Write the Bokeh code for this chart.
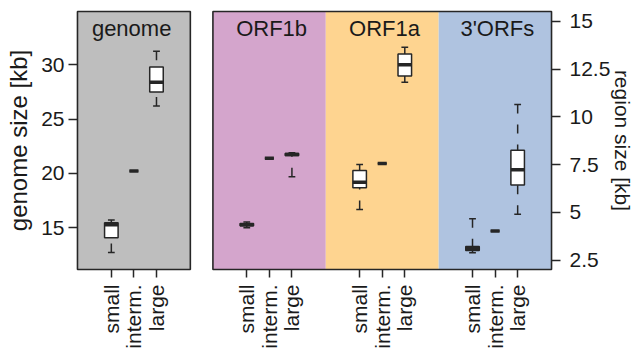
import math
from bokeh.plotting import figure
from bokeh.models import Range1d, LinearAxis, FixedTicker, ColumnDataSource
from bokeh.embed import file_html
from bokeh.resources import INLINE
from bokeh.core.properties import value

# ---------------- data ----------------
panel_names = ["genome", "ORF1b", "ORF1a", "3'ORFs"]
size_classes = ["small", "interm.", "large"]

# five-number summaries per panel, per size class (kb)
whisker_low = [[12.7, 20.2, 26.2], [4.2, 7.83, 6.86], [5.15, 7.56, 11.81], [2.89, 4.02, 4.9]]
quart_1 = [[14.05, 20.2, 27.5], [4.3, 7.83, 7.98], [6.29, 7.56, 12.14], [3.0, 4.02, 6.43]]
medians = [[15.25, 20.2, 28.4], [4.35, 7.83, 8.03], [6.58, 7.56, 12.72], [3.11, 4.02, 7.23]]
quart_3 = [[15.45, 20.2, 29.8], [4.42, 7.83, 8.08], [7.19, 7.56, 13.29], [3.22, 4.02, 8.25]]
whisker_high = [[15.7, 20.2, 31.25], [4.5, 7.83, 8.12], [7.5, 7.56, 13.64], [4.67, 4.02, 10.65]]

genome_ticks = [15, 20, 25, 30]
genome_tick_labels = ["15", "20", "25", "30"]
region_ticks = [2.5, 5, 7.5, 10, 12.5, 15]
region_tick_labels = ["2.5", "5", "7.5", "10", "12.5", "15"]

# ---------------- styling / layout ----------------
FONT = "Liberation Sans"
TXT = "#1a1a1a"
LINE = "#262626"
panel_colors = ["#BEBEBE", "#D4A5CC", "#FED490", "#AFC3E0"]
class_widths = [0.6, 0.4, 0.6]

frame_w, frame_h = 484, 262
pad_px = 2
x_lo, x_hi = -0.5, 20.5
gy_lo, gy_hi = 11.13, 34.91
ry_lo, ry_hi = 2.01, 15.51
pad_x = (x_hi - x_lo) * pad_px / (frame_w - 2 * pad_px)
pad_gy = (gy_hi - gy_lo) * pad_px / (frame_h - 2 * pad_px)
pad_ry = (ry_hi - ry_lo) * pad_px / (frame_h - 2 * pad_px)
gy_per_px = (gy_hi - gy_lo) / (frame_h - 2 * pad_px)
ry_per_px = (ry_hi - ry_lo) / (frame_h - 2 * pad_px)


def panel_bounds(i):
    if i == 0:
        return -0.5, 4.5
    return 5.5 + 5 * (i - 1), 10.5 + 5 * (i - 1)


def class_x(i, j):
    left, _ = panel_bounds(i)
    return left + 1.5 + j


p = figure(width=637, height=354,
           x_range=Range1d(x_lo - pad_x, x_hi + pad_x),
           y_range=Range1d(gy_lo - pad_gy, gy_hi + pad_gy),
           output_backend="svg", toolbar_location=None,
           min_border_left=75, min_border_right=637 - 75 - frame_w,
           min_border_top=9, min_border_bottom=354 - 9 - frame_h)
p.extra_y_ranges = {"region": Range1d(ry_lo - pad_ry, ry_hi + pad_ry)}
p.outline_line_color = None
p.background_fill_color = "white"
p.border_fill_color = "white"
p.xgrid.visible = False
p.ygrid.visible = False

# panel backgrounds
for i in range(4):
    l, r = panel_bounds(i)
    if i == 0:
        p.quad(left=[l], right=[r], bottom=[gy_lo], top=[gy_hi],
               fill_color=panel_colors[i], line_color=None)
    else:
        p.quad(left=[l], right=[r], bottom=[ry_lo], top=[ry_hi],
               fill_color=panel_colors[i], line_color=None, y_range_name="region")

# panel borders
l0, r0 = panel_bounds(0)
p.quad(left=[l0], right=[r0], bottom=[gy_lo], top=[gy_hi],
       fill_color=None, line_color=LINE, line_width=1.6)
l1, _ = panel_bounds(1)
_, r3 = panel_bounds(3)
p.quad(left=[l1], right=[r3], bottom=[ry_lo], top=[ry_hi],
       fill_color=None, line_color=LINE, line_width=1.6, y_range_name="region")

# boxplots
for i in range(4):
    xs, w, lo, q1, md, q3, hi = [], [], [], [], [], [], []
    for j in range(3):
        xs.append(class_x(i, j))
        w.append(class_widths[j])
        lo.append(whisker_low[i][j])
        q1.append(quart_1[i][j])
        md.append(medians[i][j])
        q3.append(quart_3[i][j])
        hi.append(whisker_high[i][j])
    src = ColumnDataSource(dict(
        x=xs, lo=lo, q1=q1, md=md, q3=q3, hi=hi,
        bl=[a - b / 2 for a, b in zip(xs, w)], br=[a + b / 2 for a, b in zip(xs, w)],
        cl=[a - b / 4 for a, b in zip(xs, w)], cr=[a + b / 4 for a, b in zip(xs, w)],
    ))
    kw = {} if i == 0 else {"y_range_name": "region"}
    p.segment(x0="x", y0="lo", x1="x", y1="q1", source=src, line_color=LINE,
              line_width=1.5, line_dash="9 11", **kw)
    p.segment(x0="x", y0="hi", x1="x", y1="q3", source=src, line_color=LINE,
              line_width=1.5, line_dash="9 11", **kw)
    p.segment(x0="cl", y0="lo", x1="cr", y1="lo", source=src, line_color=LINE,
              line_width=1.5, **kw)
    p.segment(x0="cl", y0="hi", x1="cr", y1="hi", source=src, line_color=LINE,
              line_width=1.5, **kw)
    p.quad(left="bl", right="br", bottom="q1", top="q3", source=src,
           fill_color="white", line_color=LINE, line_width=1.5, **kw)
    p.segment(x0="bl", y0="md", x1="br", y1="md", source=src, line_color=LINE,
              line_width=3.5, **kw)

# panel titles
title_off_px = 17
p.text(x=[class_x(0, 1) - 0.1], y=[gy_hi - title_off_px * gy_per_px], text=[panel_names[0]],
       text_font=value(FONT), text_font_size="22px", text_color=TXT,
       text_align="center", text_baseline="alphabetic")
p.text(x=[class_x(i, 1) + 0.1 for i in range(1, 4)],
       y=[ry_hi - title_off_px * ry_per_px] * 3, text=panel_names[1:],
       text_font=value(FONT), text_font_size="22px", text_color=TXT,
       text_align="center", text_baseline="alphabetic", y_range_name="region")

# axes
def style_axis(ax, out):
    ax.axis_line_color = None
    ax.major_tick_line_color = LINE
    ax.major_tick_line_width = 1.5
    ax.major_tick_out = out
    ax.major_tick_in = pad_px
    ax.minor_tick_line_color = None
    ax.major_label_text_font = FONT
    ax.major_label_text_font_size = "21px"
    ax.major_label_text_color = TXT
    ax.axis_label_text_font = FONT
    ax.axis_label_text_font_style = "normal"
    ax.axis_label_text_font_size = "21px"
    ax.axis_label_text_color = TXT

ya = p.yaxis[0]
ya.ticker = FixedTicker(ticks=genome_ticks)
ya.major_label_overrides = {t: s for t, s in zip(genome_ticks, genome_tick_labels)}
style_axis(ya, 7)
ya.major_label_standoff = 4
ya.axis_label = "genome size [kb]"
ya.axis_label_standoff = 6
ya.axis_label_text_font_size = "24px"

ra = LinearAxis(y_range_name="region", ticker=FixedTicker(ticks=region_ticks))
ra.major_label_overrides = {t: s for t, s in zip(region_ticks, region_tick_labels)}
style_axis(ra, 7)
ra.major_label_standoff = 9
ra.axis_label = "region size [kb]"
ra.axis_label_standoff = -2
p.add_layout(ra, "right")

xa = p.xaxis[0]
xticks = [class_x(i, j) for i in range(4) for j in range(3)]
xa.ticker = FixedTicker(ticks=xticks)
xa.major_label_overrides = {class_x(i, j): size_classes[j] for i in range(4) for j in range(3)}
style_axis(xa, 6)
xa.major_label_orientation = math.pi / 2
xa.major_label_standoff = 7

open("out.html", "w").write(file_html(p, INLINE))
